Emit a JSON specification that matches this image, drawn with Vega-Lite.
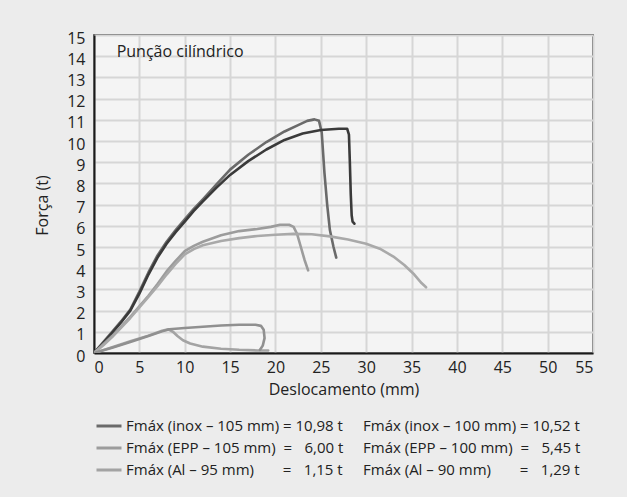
{
  "$schema": "https://vega.github.io/schema/vega-lite/v6.json",
  "autosize": "none",
  "width": 499,
  "height": 318,
  "padding": {"left": 94, "top": 35, "right": 34, "bottom": 144},
  "background": "#ececec",
  "config": {
    "font": "Open Sans",
    "view": {"fill": "#f4f4f4", "stroke": "#1a1a1a", "strokeWidth": 1.5},
    "axis": {"labelFont": "Open Sans", "titleFont": "Open Sans", "labelColor": "#222", "titleColor": "#222", "titleFontWeight": "normal", "labelFontSize": 16, "titleFontSize": 16, "labelOverlap": false}
  },
  "datasets": {
    "curves": [
      {"s":"inox105","i":0,"x":0,"y":0},{"s":"inox105","i":1,"x":1,"y":0.5},{"s":"inox105","i":2,"x":2,"y":1.0},{"s":"inox105","i":3,"x":3,"y":1.5},{"s":"inox105","i":4,"x":4,"y":2.05},{"s":"inox105","i":5,"x":5,"y":2.9},{"s":"inox105","i":6,"x":6,"y":3.8},{"s":"inox105","i":7,"x":7,"y":4.6},{"s":"inox105","i":8,"x":8,"y":5.25},{"s":"inox105","i":9,"x":9,"y":5.8},{"s":"inox105","i":10,"x":10,"y":6.3},{"s":"inox105","i":11,"x":11,"y":6.8},{"s":"inox105","i":12,"x":12,"y":7.25},{"s":"inox105","i":13,"x":13.5,"y":7.95},{"s":"inox105","i":14,"x":15,"y":8.65},{"s":"inox105","i":15,"x":17,"y":9.35},{"s":"inox105","i":16,"x":19,"y":9.95},{"s":"inox105","i":17,"x":21,"y":10.45},{"s":"inox105","i":18,"x":22.5,"y":10.75},{"s":"inox105","i":19,"x":23.5,"y":10.95},{"s":"inox105","i":20,"x":24.3,"y":11.02},{"s":"inox105","i":21,"x":24.8,"y":10.95},{"s":"inox105","i":22,"x":25.1,"y":10.4},{"s":"inox105","i":23,"x":25.4,"y":8.5},{"s":"inox105","i":24,"x":25.7,"y":7.0},{"s":"inox105","i":25,"x":26.0,"y":5.8},{"s":"inox105","i":26,"x":26.4,"y":5.0},{"s":"inox105","i":27,"x":26.7,"y":4.5},
      {"s":"inox100","i":0,"x":0,"y":0},{"s":"inox100","i":1,"x":1,"y":0.45},{"s":"inox100","i":2,"x":2,"y":0.95},{"s":"inox100","i":3,"x":3,"y":1.45},{"s":"inox100","i":4,"x":4,"y":2.0},{"s":"inox100","i":5,"x":5,"y":2.8},{"s":"inox100","i":6,"x":6,"y":3.7},{"s":"inox100","i":7,"x":7,"y":4.5},{"s":"inox100","i":8,"x":8,"y":5.15},{"s":"inox100","i":9,"x":9,"y":5.7},{"s":"inox100","i":10,"x":10,"y":6.2},{"s":"inox100","i":11,"x":11,"y":6.7},{"s":"inox100","i":12,"x":12,"y":7.15},{"s":"inox100","i":13,"x":13.5,"y":7.8},{"s":"inox100","i":14,"x":15,"y":8.4},{"s":"inox100","i":15,"x":17,"y":9.05},{"s":"inox100","i":16,"x":19,"y":9.6},{"s":"inox100","i":17,"x":21,"y":10.05},{"s":"inox100","i":18,"x":23,"y":10.35},{"s":"inox100","i":19,"x":25,"y":10.52},{"s":"inox100","i":20,"x":27,"y":10.58},{"s":"inox100","i":21,"x":27.9,"y":10.58},{"s":"inox100","i":22,"x":28.1,"y":10.3},{"s":"inox100","i":23,"x":28.2,"y":9.0},{"s":"inox100","i":24,"x":28.3,"y":7.5},{"s":"inox100","i":25,"x":28.4,"y":6.5},{"s":"inox100","i":26,"x":28.5,"y":6.2},{"s":"inox100","i":27,"x":28.7,"y":6.1},
      {"s":"EPP105","i":0,"x":0,"y":0},{"s":"EPP105","i":1,"x":1,"y":0.4},{"s":"EPP105","i":2,"x":2,"y":0.8},{"s":"EPP105","i":3,"x":3,"y":1.25},{"s":"EPP105","i":4,"x":4,"y":1.7},{"s":"EPP105","i":5,"x":5,"y":2.2},{"s":"EPP105","i":6,"x":6,"y":2.7},{"s":"EPP105","i":7,"x":7,"y":3.25},{"s":"EPP105","i":8,"x":8,"y":3.85},{"s":"EPP105","i":9,"x":9,"y":4.35},{"s":"EPP105","i":10,"x":10,"y":4.8},{"s":"EPP105","i":11,"x":11,"y":5.05},{"s":"EPP105","i":12,"x":12,"y":5.25},{"s":"EPP105","i":13,"x":14,"y":5.55},{"s":"EPP105","i":14,"x":16,"y":5.75},{"s":"EPP105","i":15,"x":18,"y":5.85},{"s":"EPP105","i":16,"x":19.5,"y":5.95},{"s":"EPP105","i":17,"x":20.5,"y":6.05},{"s":"EPP105","i":18,"x":21.5,"y":6.05},{"s":"EPP105","i":19,"x":22,"y":5.95},{"s":"EPP105","i":20,"x":22.4,"y":5.6},{"s":"EPP105","i":21,"x":22.8,"y":5.0},{"s":"EPP105","i":22,"x":23.2,"y":4.4},{"s":"EPP105","i":23,"x":23.6,"y":3.9},
      {"s":"EPP100","i":0,"x":0,"y":0},{"s":"EPP100","i":1,"x":1,"y":0.35},{"s":"EPP100","i":2,"x":2,"y":0.75},{"s":"EPP100","i":3,"x":3,"y":1.2},{"s":"EPP100","i":4,"x":4,"y":1.65},{"s":"EPP100","i":5,"x":5,"y":2.15},{"s":"EPP100","i":6,"x":6,"y":2.65},{"s":"EPP100","i":7,"x":7,"y":3.15},{"s":"EPP100","i":8,"x":8,"y":3.7},{"s":"EPP100","i":9,"x":9,"y":4.2},{"s":"EPP100","i":10,"x":10,"y":4.65},{"s":"EPP100","i":11,"x":11,"y":4.9},{"s":"EPP100","i":12,"x":12,"y":5.08},{"s":"EPP100","i":13,"x":14,"y":5.28},{"s":"EPP100","i":14,"x":16,"y":5.42},{"s":"EPP100","i":15,"x":18,"y":5.52},{"s":"EPP100","i":16,"x":20,"y":5.58},{"s":"EPP100","i":17,"x":22,"y":5.62},{"s":"EPP100","i":18,"x":24,"y":5.6},{"s":"EPP100","i":19,"x":26,"y":5.5},{"s":"EPP100","i":20,"x":28,"y":5.35},{"s":"EPP100","i":21,"x":30,"y":5.15},{"s":"EPP100","i":22,"x":31.5,"y":4.92},{"s":"EPP100","i":23,"x":33,"y":4.55},{"s":"EPP100","i":24,"x":34.2,"y":4.15},{"s":"EPP100","i":25,"x":35.3,"y":3.7},{"s":"EPP100","i":26,"x":36.1,"y":3.3},{"s":"EPP100","i":27,"x":36.6,"y":3.1},
      {"s":"Al95","i":0,"x":0,"y":0},{"s":"Al95","i":1,"x":2,"y":0.27},{"s":"Al95","i":2,"x":4,"y":0.55},{"s":"Al95","i":3,"x":6,"y":0.82},{"s":"Al95","i":4,"x":7.5,"y":1.05},{"s":"Al95","i":5,"x":8.2,"y":1.12},{"s":"Al95","i":6,"x":8.7,"y":1.0},{"s":"Al95","i":7,"x":9.2,"y":0.8},{"s":"Al95","i":8,"x":9.8,"y":0.6},{"s":"Al95","i":9,"x":10.6,"y":0.45},{"s":"Al95","i":10,"x":12,"y":0.3},{"s":"Al95","i":11,"x":14,"y":0.2},{"s":"Al95","i":12,"x":16,"y":0.15},{"s":"Al95","i":13,"x":18,"y":0.12},{"s":"Al95","i":14,"x":19.2,"y":0.12},
      {"s":"Al90","i":0,"x":0,"y":0},{"s":"Al90","i":1,"x":2,"y":0.25},{"s":"Al90","i":2,"x":4,"y":0.52},{"s":"Al90","i":3,"x":6,"y":0.8},{"s":"Al90","i":4,"x":7.5,"y":1.02},{"s":"Al90","i":5,"x":8.3,"y":1.12},{"s":"Al90","i":6,"x":10,"y":1.18},{"s":"Al90","i":7,"x":12,"y":1.24},{"s":"Al90","i":8,"x":14,"y":1.3},{"s":"Al90","i":9,"x":16,"y":1.33},{"s":"Al90","i":10,"x":17.8,"y":1.33},{"s":"Al90","i":11,"x":18.4,"y":1.28},{"s":"Al90","i":12,"x":18.7,"y":1.1},{"s":"Al90","i":13,"x":18.8,"y":0.7},{"s":"Al90","i":14,"x":18.6,"y":0.35},{"s":"Al90","i":15,"x":18.3,"y":0.15}
    ]
  },
  "layer": [
    {
      "data": {"name": "curves"},
      "mark": {"type": "line", "strokeWidth": 2.6, "strokeCap": "round", "strokeJoin": "round", "clip": true},
      "encoding": {
        "x": {"field": "x", "type": "quantitative", "scale": {"domain": [0, 55], "nice": false},
          "axis": {"values": [0,5,10,15,20,25,30,35,40,45,50,55], "labelOverlap": false, "grid": true, "gridColor": "#d6d6d6", "gridWidth": 2, "ticks": false, "domain": true, "domainColor": "#1a1a1a", "domainWidth": 2, "labelPadding": 6, "title": "Deslocamento (mm)", "titlePadding": 6}},
        "y": {"field": "y", "type": "quantitative", "scale": {"domain": [0, 15], "nice": false},
          "axis": {"values": [0,1,2,3,4,5,6,7,8,9,10,11,12,13,14,15], "labelOverlap": false, "grid": true, "gridColor": "#d6d6d6", "gridWidth": 2, "ticks": false, "domain": true, "domainColor": "#1a1a1a", "domainWidth": 2, "labelPadding": 9, "labelOffset": 3, "title": "Força (t)", "titlePadding": 16, "titleY": 170}},
        "order": {"field": "i", "type": "quantitative"},
        "color": {"field": "s", "type": "nominal",
          "scale": {"domain": ["inox105","inox100","EPP105","EPP100","Al95","Al90"], "range": ["#6a6a6a","#3a3a3a","#9c9c9c","#a9a9a9","#a3a3a3","#909090"]},
          "legend": {
            "orient": "none", "legendX": 1, "legendY": 377, "direction": "horizontal", "columns": 2, "gridAlign": "each", "columnPadding": 0, "rowPadding": 0,
            "title": null, "symbolType": "stroke", "symbolSize": 625, "symbolStrokeWidth": 3, "labelOffset": 3,
            "labelFont": "Open Sans", "labelFontSize": 15, "labelColor": "#222", "labelLimit": 400,
            "labelExpr": "datum.value == 'inox105' ? 'Fmáx (inox – 105 mm) = 10,98 t' : datum.value == 'inox100' ? 'Fmáx (inox – 100 mm) = 10,52 t' : datum.value == 'EPP105' ? 'Fmáx (EPP – 105 mm)\u00a0 = \u20076,00 t' : datum.value == 'EPP100' ? 'Fmáx (EPP – 100 mm)\u00a0 = \u20075,45 t' : datum.value == 'Al95' ? 'Fmáx (Al – 95 mm)\u00a0\u2007\u2007\u00a0 = \u20071,15 t' : 'Fmáx (Al – 90 mm)\u00a0\u2007\u2007\u00a0 = \u20071,29 t'",
            "encode": {
              "symbols": {"update": {"opacity": {"signal": "indexof(['inox100','EPP100','Al90'], datum.value) >= 0 ? 0 : 1"}}},
              "labels": {"update": {"dx": {"signal": "indexof(['inox100','EPP100','Al90'], datum.value) >= 0 ? -12 : 0"}}}
            }
          }
        }
      }
    },
    {
      "data": {"values": [{}]},
      "mark": {"type": "text", "align": "left", "baseline": "middle", "fontSize": 16, "font": "Open Sans", "color": "#222"},
      "encoding": {
        "x": {"datum": 2.5, "type": "quantitative", "axis": {"values": [0,5,10,15,20,25,30,35,40,45,50,55], "labelOverlap": false}},
        "y": {"datum": 14.2, "type": "quantitative", "axis": {"values": [0,1,2,3,4,5,6,7,8,9,10,11,12,13,14,15], "labelOverlap": false}},
        "text": {"value": "Punção cilíndrico"}
      }
    }
  ]
}
